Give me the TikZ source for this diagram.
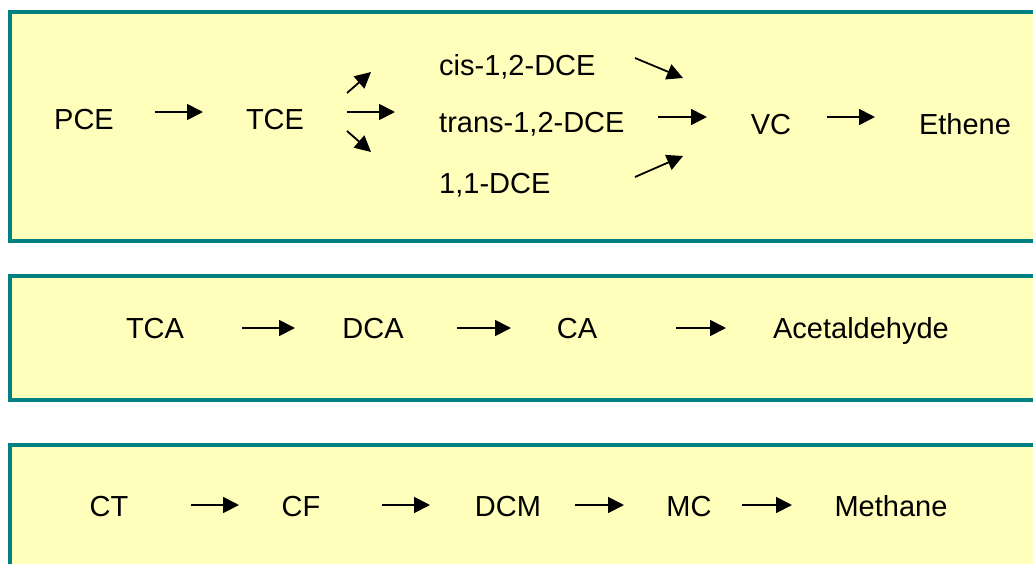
\documentclass[tikz,border=0pt]{standalone}
\usepackage{fontspec}
\setmainfont{Liberation Sans}
\usetikzlibrary{arrows.meta}
\definecolor{boxteal}{HTML}{008080}
\definecolor{boxfill}{HTML}{FFFFBB}
\tikzset{
  panel/.style={draw=boxteal, fill=boxfill, line width=4pt},
  lbl/.style={inner sep=0pt, font=\fontsize{29}{34}\selectfont, anchor=base},
  lblw/.style={lbl, anchor=base west},
  arr/.style={line width=1.8pt, -{Triangle[length=16pt,width=16pt]}}
}
\begin{document}
\begin{tikzpicture}[x=1pt,y=-1pt]
\useasboundingbox (0,0) rectangle (1033,563);
\begin{scope}
\clip (0,0) rectangle (1033,563);
\draw[panel] (10,12) rectangle (1045,241);
\draw[panel] (10,276) rectangle (1045,400);
\draw[panel] (10,444.5) rectangle (1045,580);
\end{scope}
% panel 1
\node[lbl] (pce) at (84,129) {PCE};
\node[lbl] (tce) at (275,129) {TCE};
\node[lblw] (cis) at (439,75) {cis-1,2-DCE};
\node[lblw] (trans) at (439,132) {trans-1,2-DCE};
\node[lblw] (dce11) at (439,193) {1,1-DCE};
\node[lbl] (vc) at (771,134) {VC};
\node[lbl] (ethene) at (965,134) {Ethene};
\coordinate (a1s) at (155,112); \coordinate (a1e) at (203,112);
\coordinate (a2s) at (347,93);  \coordinate (a2e) at (371,72);
\coordinate (a3s) at (347,112); \coordinate (a3e) at (395,112);
\coordinate (a4s) at (347,131); \coordinate (a4e) at (371,152);
\coordinate (a5s) at (635,58);  \coordinate (a5e) at (683,78);
\coordinate (a6s) at (658,117); \coordinate (a6e) at (707,117);
\coordinate (a7s) at (635,177); \coordinate (a7e) at (683,156);
\coordinate (a8s) at (827,117); \coordinate (a8e) at (875,117);
\draw[arr] (a1s) -- (a1e);
\draw[arr] (a2s) -- (a2e);
\draw[arr] (a3s) -- (a3e);
\draw[arr] (a4s) -- (a4e);
\draw[arr] (a5s) -- (a5e);
\draw[arr] (a6s) -- (a6e);
\draw[arr] (a7s) -- (a7e);
\draw[arr] (a8s) -- (a8e);
% panel 2
\node[lbl] (tca) at (155,338) {TCA};
\node[lbl] (dca) at (373,338) {DCA};
\node[lbl] (ca) at (577,338) {CA};
\node[lbl] (acet) at (861,338) {Acetaldehyde};
\coordinate (b1s) at (242,328); \coordinate (b1e) at (295,328);
\coordinate (b2s) at (457,328); \coordinate (b2e) at (511,328);
\coordinate (b3s) at (676,328); \coordinate (b3e) at (726,328);
\draw[arr] (b1s) -- (b1e);
\draw[arr] (b2s) -- (b2e);
\draw[arr] (b3s) -- (b3e);
% panel 3
\node[lbl] (ct) at (109,516) {CT};
\node[lbl] (cf) at (301,516) {CF};
\node[lbl] (dcm) at (508,516) {DCM};
\node[lbl] (mc) at (689,516) {MC};
\node[lbl] (methane) at (891,516) {Methane};
\coordinate (c1s) at (191,505); \coordinate (c1e) at (239,505);
\coordinate (c2s) at (382,505); \coordinate (c2e) at (430,505);
\coordinate (c3s) at (575,505); \coordinate (c3e) at (624,505);
\coordinate (c4s) at (742,505); \coordinate (c4e) at (792,505);
\draw[arr] (c1s) -- (c1e);
\draw[arr] (c2s) -- (c2e);
\draw[arr] (c3s) -- (c3e);
\draw[arr] (c4s) -- (c4e);
\end{tikzpicture}
\end{document}
